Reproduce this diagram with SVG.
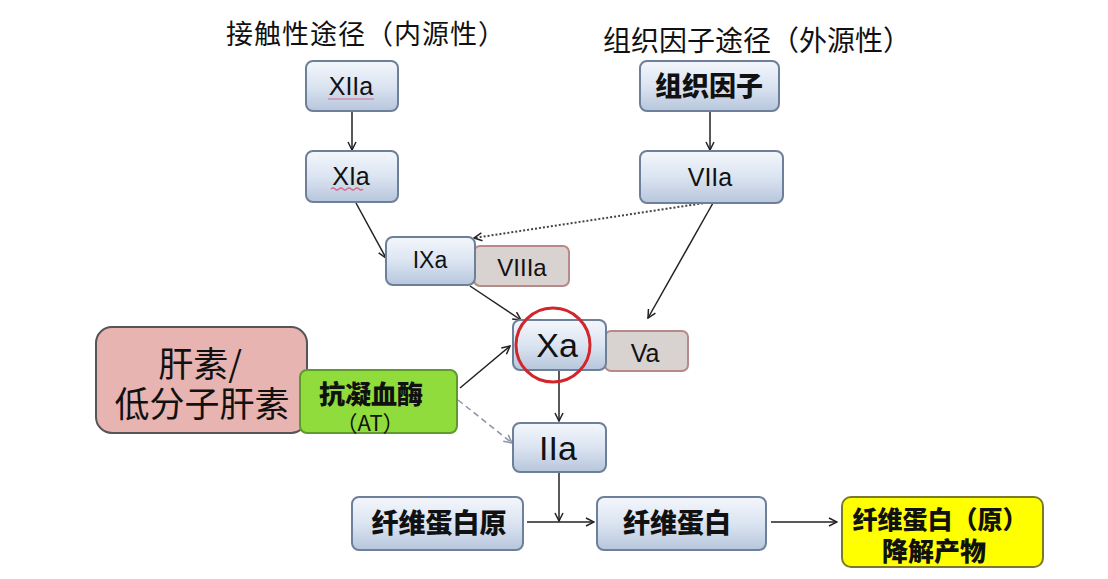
<svg xmlns="http://www.w3.org/2000/svg" width="1108" height="579" viewBox="0 0 1108 579">
<defs>
<linearGradient id="blue" x1="0" y1="0" x2="0" y2="1">
<stop offset="0" stop-color="#f4f7fc"/>
<stop offset="0.5" stop-color="#dbe4f1"/>
<stop offset="1" stop-color="#b7c6dc"/>
</linearGradient>
<marker id="arr" viewBox="0 0 10 10" refX="9" refY="5" markerWidth="10" markerHeight="10" markerUnits="userSpaceOnUse" orient="auto">
<path d="M1,1 L9,5 L1,9" fill="none" stroke="#222" stroke-width="1.5"/>
</marker>
<marker id="arrg" viewBox="0 0 10 10" refX="9" refY="5" markerWidth="10" markerHeight="10" markerUnits="userSpaceOnUse" orient="auto">
<path d="M1,1 L9,5 L1,9" fill="none" stroke="#8a94a4" stroke-width="1.5"/>
</marker>
</defs>
<style>
.bx{fill:url(#blue);stroke:#6d7f99;stroke-width:2}
.gr{fill:#d8d2d0;stroke:#b68a88;stroke-width:2}
.lat{font-family:"Liberation Sans",Arial,sans-serif;fill:#111;text-anchor:middle}
.cjk{font-family:"Noto Sans CJK SC","Noto Sans",sans-serif;fill:#111;text-anchor:middle}
.b{font-weight:900}
.ln{fill:none;stroke:#222;stroke-width:1.5}
</style>
<rect width="1108" height="579" fill="#ffffff"/>

<text class="cjk" x="366" y="44" font-size="27" letter-spacing="1">接触性途径（内源性）</text>
<text class="cjk" x="757" y="51" font-size="28">组织因子途径（外源性）</text>

<g id="connectors">
<line class="ln" x1="352" y1="111" x2="352" y2="150" marker-end="url(#arr)"/>
<line class="ln" x1="710" y1="111" x2="710" y2="150" marker-end="url(#arr)"/>
<line class="ln" x1="356" y1="203" x2="386" y2="258" marker-end="url(#arr)"/>
<line x1="711" y1="202" x2="474" y2="238" fill="none" stroke="#444" stroke-width="2" stroke-dasharray="2,2" marker-end="url(#arr)"/>
<line class="ln" x1="713" y1="203" x2="648" y2="318" marker-end="url(#arr)"/>
<line class="ln" x1="470" y1="286" x2="521" y2="320" marker-end="url(#arr)"/>
<line class="ln" x1="460" y1="388" x2="510" y2="346" marker-end="url(#arr)"/>
<line x1="458" y1="400" x2="512" y2="443" fill="none" stroke="#8a94a4" stroke-width="1.5" stroke-dasharray="6,4" marker-end="url(#arrg)"/>
<line class="ln" x1="559" y1="371" x2="559" y2="421" marker-end="url(#arr)"/>
<line class="ln" x1="559" y1="472" x2="559" y2="521" marker-end="url(#arr)"/>
<line class="ln" x1="527" y1="522" x2="594" y2="522" marker-end="url(#arr)"/>
<line class="ln" x1="771" y1="522" x2="837" y2="522" marker-end="url(#arr)"/>
</g>

<g id="n-XIIa">
<rect class="bx" x="306" y="61" width="92" height="50" rx="7"/>
<text class="lat" x="351" y="95" font-size="25">XIIa</text>
<path d="M328,99 L374,99" stroke="#d86a8a" stroke-width="1.2" fill="none"/>
</g>
<g id="n-XIa">
<rect class="bx" x="306" y="151" width="92" height="51" rx="7"/>
<text class="lat" x="351" y="185" font-size="25">XIa</text>
<path d="M331,189 q2,-2 4,0 t4,0 t4,0 t4,0 t4,0 t4,0 t4,0 t4,0" stroke="#d86a8a" stroke-width="1.2" fill="none"/>
</g>
<g id="n-TF">
<rect class="bx" x="640" y="61" width="139" height="50" rx="7"/>
<text class="cjk b" x="709" y="96" font-size="27">组织因子</text>
</g>
<g id="n-VIIa">
<rect class="bx" x="640" y="151" width="143" height="52" rx="7"/>
<text class="lat" x="710" y="186" font-size="25">VIIa</text>
</g>
<g id="n-VIIIa">
<rect class="gr" x="474" y="246" width="95" height="40" rx="6"/>
<text class="lat" x="522" y="276" font-size="24">VIIIa</text>
</g>
<g id="n-IXa">
<rect class="bx" x="386" y="237" width="89" height="48" rx="7"/>
<text class="lat" x="430" y="268" font-size="23">IXa</text>
</g>
<g id="n-Va">
<rect class="gr" x="605" y="331" width="83" height="40" rx="6"/>
<text class="lat" x="645" y="362" font-size="25">Va</text>
</g>
<g id="n-Xa">
<rect class="bx" x="513" y="320" width="93" height="50" rx="7"/>
<text class="lat" x="557" y="357" font-size="34">Xa</text>
<circle cx="553" cy="345" r="37" fill="none" stroke="#d0262c" stroke-width="3"/>
</g>
<g id="n-heparin">
<rect x="96" y="327" width="211" height="106" rx="16" fill="#e8b4b1" stroke="#555" stroke-width="2"/>
<text class="cjk" x="200" y="377" font-size="35">肝素/</text>
<text class="cjk" x="202" y="417" font-size="35">低分子肝素</text>
</g>
<g id="n-AT">
<rect x="300" y="370" width="157" height="63" rx="7" fill="#8fdc3c" stroke="#5f9a2c" stroke-width="2"/>
<text class="cjk b" x="371" y="404" font-size="26">抗凝血酶</text>
<text class="cjk" x="370" y="431" font-size="22">（AT）</text>
</g>
<g id="n-IIa">
<rect class="bx" x="513" y="423" width="93" height="49" rx="7"/>
<text class="lat" x="558" y="460" font-size="34">IIa</text>
</g>
<g id="n-fibrinogen">
<rect class="bx" x="352" y="497" width="171" height="53" rx="7"/>
<text class="cjk b" x="439" y="533" font-size="27">纤维蛋白原</text>
</g>
<g id="n-fibrin">
<rect class="bx" x="597" y="497" width="169" height="53" rx="7"/>
<text class="cjk b" x="677" y="533" font-size="27">纤维蛋白</text>
</g>
<g id="n-FDP">
<rect x="842" y="497" width="201" height="70" rx="9" fill="#ffff00" stroke="#7a7a2a" stroke-width="2"/>
<text class="cjk b" x="940" y="529" font-size="25">纤维蛋白（原）</text>
<text class="cjk b" x="934" y="561" font-size="26">降解产物</text>
</g>
</svg>
